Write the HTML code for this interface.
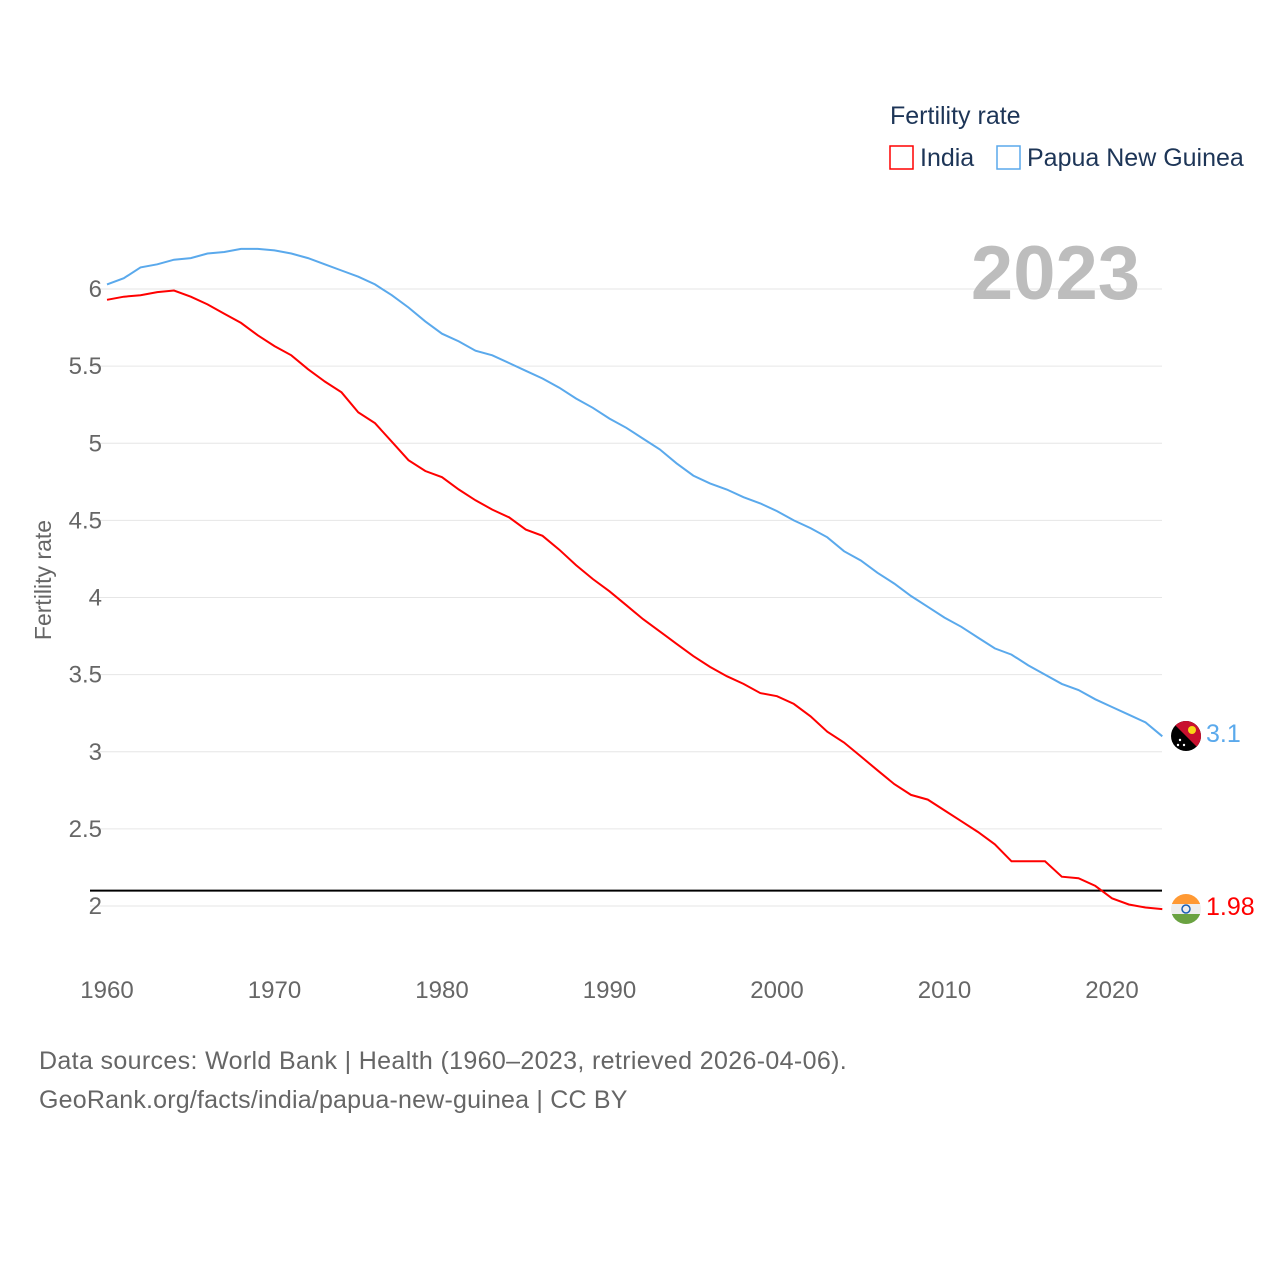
<!DOCTYPE html>
<html><head><meta charset="utf-8"><style>
body{margin:0;background:#fff;font-family:"Liberation Sans",sans-serif}
svg text{font-family:"Liberation Sans",sans-serif}
</style></head><body>
<svg id="chart" width="1280" height="1280" xmlns="http://www.w3.org/2000/svg">
<defs>
<clipPath id="c1"><circle cx="1186" cy="736" r="15"/></clipPath>
<clipPath id="c2"><circle cx="1186" cy="909" r="15"/></clipPath>
</defs>
<g id="grid"></g>
<g id="yticks"></g>
<g id="xticks"></g>
<text transform="translate(51,580) rotate(-90)" text-anchor="middle" font-size="23" fill="#666">Fertility rate</text>
<text x="1140" y="299" text-anchor="end" font-size="76" font-weight="bold" fill="#bdbdbd">2023</text>
<g>
<text x="890" y="124" font-size="25" fill="#1d3557">Fertility rate</text>
<rect x="890" y="146" width="23" height="23" fill="none" stroke="red" stroke-width="1.5"/>
<text x="920" y="166" font-size="25" fill="#1d3557">India</text>
<rect x="997" y="146" width="23" height="23" fill="none" stroke="#5aa9ec" stroke-width="1.5"/>
<text x="1027" y="166" font-size="25" fill="#1d3557">Papua New Guinea</text>
</g>
<line id="refline" stroke="#000" stroke-width="2"/>
<path id="pngline" fill="none" stroke="#5aa9ec" stroke-width="2"/>
<path id="indline" fill="none" stroke="red" stroke-width="2"/>
<g clip-path="url(#c1)">
<rect x="1170" y="720" width="32" height="32" fill="#000"/>
<polygon points="1170,720 1202,720 1202,752" fill="#c8102e"/>
<circle cx="1192" cy="730" r="4" fill="#f9d616"/>
<circle cx="1180" cy="740" r="1.2" fill="#fff"/><circle cx="1184" cy="745" r="1.2" fill="#fff"/><circle cx="1178" cy="745" r="1.2" fill="#fff"/>
</g>
<g clip-path="url(#c2)">
<rect x="1170" y="893" width="32" height="11" fill="#ff9933"/>
<rect x="1170" y="904" width="32" height="10" fill="#eee"/>
<rect x="1170" y="914" width="32" height="11" fill="#6aa241"/>
<circle cx="1186" cy="909" r="4" fill="none" stroke="#1a5fb4" stroke-width="1.5"/>
</g>
<text id="pngval" x="1206" y="742" font-size="25" fill="#5aa9ec"></text>
<text id="indval" x="1206" y="915" font-size="25" fill="red"></text>
<text x="39" y="1069" font-size="25" letter-spacing="0.35" fill="#666">Data sources: World Bank | Health (1960–2023, retrieved 2026-04-06).</text>
<text x="39" y="1108" font-size="25" letter-spacing="0.2" fill="#666">GeoRank.org/facts/india/papua-new-guinea | CC BY</text>
</svg>
<script>
const startYear = 1960;
const india = [5.93,5.95,5.96,5.98,5.99,5.95,5.90,5.84,5.78,5.70,5.63,5.57,5.48,5.40,5.33,5.20,5.13,5.01,4.89,4.82,4.78,4.70,4.63,4.57,4.52,4.44,4.40,4.31,4.21,4.12,4.04,3.95,3.86,3.78,3.70,3.62,3.55,3.49,3.44,3.38,3.36,3.31,3.23,3.13,3.06,2.97,2.88,2.79,2.72,2.69,2.62,2.55,2.48,2.40,2.29,2.29,2.29,2.19,2.18,2.13,2.05,2.01,1.99,1.98];
const png = [6.03,6.07,6.14,6.16,6.19,6.20,6.23,6.24,6.26,6.26,6.25,6.23,6.20,6.16,6.12,6.08,6.03,5.96,5.88,5.79,5.71,5.66,5.60,5.57,5.52,5.47,5.42,5.36,5.29,5.23,5.16,5.10,5.03,4.96,4.87,4.79,4.74,4.70,4.65,4.61,4.56,4.50,4.45,4.39,4.30,4.24,4.16,4.09,4.01,3.94,3.87,3.81,3.74,3.67,3.63,3.56,3.50,3.44,3.40,3.34,3.29,3.24,3.19,3.10];
const yTicks = [2,2.5,3,3.5,4,4.5,5,5.5,6];
const yTickLabels = ["2","2.5","3","3.5","4","4.5","5","5.5","6"];
const xTicks = [1960,1970,1980,1990,2000,2010,2020];
const replacementRate = 2.1;
const endLabels = ["1.98","3.1"];

const X=y=>107+(y-1960)*(1112-107)/60;
const Y=v=>906-(v-2)*(906-289)/4;
const NS="http://www.w3.org/2000/svg";
const grid=document.getElementById('grid'),yt=document.getElementById('yticks'),xt=document.getElementById('xticks');
yTicks.forEach((v,i)=>{
  const l=document.createElementNS(NS,'line');
  
  
  l.setAttribute('x1',90);l.setAttribute('x2',1162);l.setAttribute('y1',Y(v));l.setAttribute('y2',Y(v));
  l.setAttribute('stroke','#e6e6e6');l.setAttribute('stroke-width',1);grid.appendChild(l);
  const t=document.createElementNS(NS,'text');
  
  
  t.setAttribute('x',102);t.setAttribute('y',Y(v)+8);t.setAttribute('text-anchor','end');
  t.setAttribute('font-size','24');t.setAttribute('fill','#666');t.textContent=yTickLabels[i];yt.appendChild(t);
});
xTicks.forEach(y=>{
  const t=document.createElementNS(NS,'text');
  
  
  t.setAttribute('x',X(y));t.setAttribute('y',998);t.setAttribute('text-anchor','middle');
  t.setAttribute('font-size','24');t.setAttribute('fill','#666');t.textContent=y;xt.appendChild(t);
});
const path=a=>a.map((v,i)=>(i?'L':'M')+X(startYear+i).toFixed(1)+','+Y(v).toFixed(1)).join('');
document.getElementById('indline').setAttribute('d',path(india));
document.getElementById('pngline').setAttribute('d',path(png));
const r=document.getElementById('refline');
r.setAttribute('x1',90);r.setAttribute('x2',1162);r.setAttribute('y1',Y(replacementRate));r.setAttribute('y2',Y(replacementRate));
document.getElementById('indval').textContent=endLabels[0];
document.getElementById('pngval').textContent=endLabels[1];
</script>
</body></html>
